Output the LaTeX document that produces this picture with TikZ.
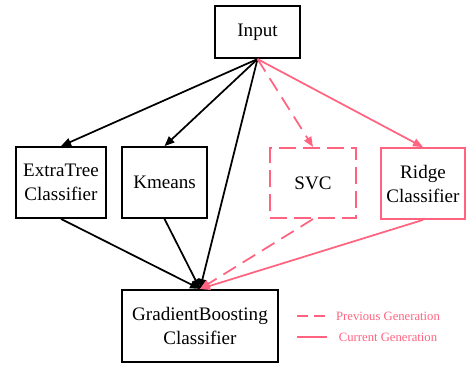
\documentclass[tikz,border=0pt]{standalone}
\usepackage{fontspec}
\setmainfont{Liberation Serif}
\usetikzlibrary{arrows.meta}
\definecolor{genpink}{RGB}{255,99,128}

\begin{document}
\begin{tikzpicture}[x=0.75pt,y=-0.75pt]

%
% Styles
%
\tikzstyle{model} = [rectangle,draw=black,line width=1.6pt,align=center,
  font=\fontsize{14.3}{18}\selectfont,inner sep=2pt]
\tikzstyle{prevmodel} = [model,draw=genpink,dash pattern=on 13pt off 5pt]
\tikzstyle{curmodel} = [model,draw=genpink]
\tikzstyle{link} = [line width=1.3pt,-{Triangle[length=7.5pt,width=6pt]}]
\tikzstyle{prevlink} = [link,genpink,dash pattern=on 11pt off 6pt]
\tikzstyle{curlink} = [link,genpink]
\tikzstyle{legend} = [font=\fontsize{9.5}{11}\selectfont,text=genpink]

\useasboundingbox (0,0) rectangle (466,364);

\node[model,minimum width=63.5pt,minimum height=39pt] (in) at (257.5,32) {Input};
\node[model,minimum width=67.5pt,minimum height=53pt] (et) at (61,182.5) {ExtraTree\\Classifier};
\node[model,minimum width=63.5pt,minimum height=53pt] (km) at (164.5,182.5) {Kmeans};
\node[prevmodel,minimum width=64.5pt,minimum height=52.5pt] (svc) at (313,183) {SVC};
\node[curmodel,minimum width=63pt,minimum height=53pt] (rc) at (423,183.5) {Ridge\\Classifier};
\node[model,minimum width=117pt,minimum height=54pt] (gb) at (200,326) {GradientBoosting\\Classifier};

\draw[link] (in.south) -- (et.north);
\draw[link] (in.south) -- (km.north);
\draw[link] (in.south) -- (gb.north);
\draw[prevlink] (in.south) -- (svc.north);
\draw[curlink] (in.south) -- (rc.north);

\draw[link] (et.south) -- (gb.north);
\draw[link] (km.south) -- (gb.north);
\draw[prevlink] (svc.south) -- (gb.north);
\draw[curlink] (rc.south) -- (gb.north);

% legend
\coordinate (pa) at (297,316);
\coordinate (pb) at (327,316);
\coordinate (ca) at (297,337);
\coordinate (cb) at (327,337);
\draw[genpink,line width=1.3pt,dash pattern=on 8pt off 5pt] (pa) -- (pb);
\draw[genpink,line width=1.3pt] (ca) -- (cb);
\node[legend] (prev) at (388,316) {Previous Generation};
\node[legend] (cur) at (388,337) {Current Generation};

\end{tikzpicture}
\end{document}
